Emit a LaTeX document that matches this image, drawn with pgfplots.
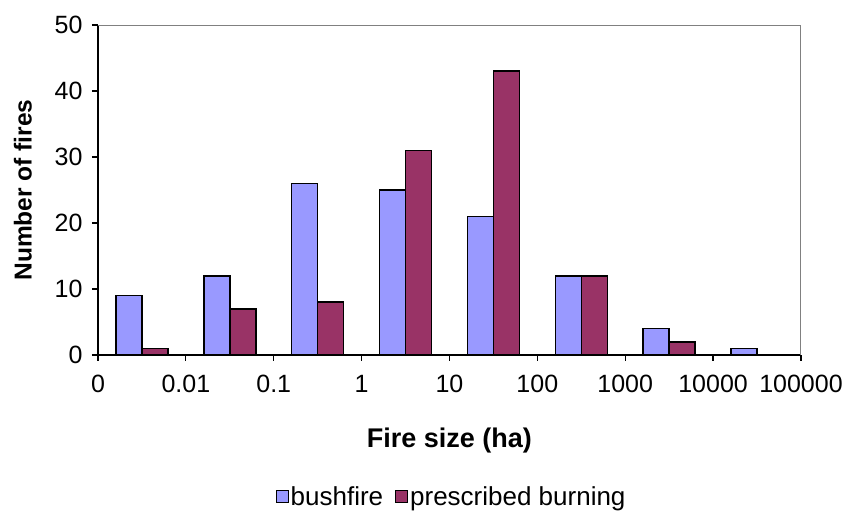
\documentclass[border=0pt]{standalone}
\usepackage{pgfplots}
\pgfplotsset{compat=1.18}
\usepackage{fontspec}
\setmainfont{Liberation Sans}

\definecolor{bush}{HTML}{9999FF}
\definecolor{presc}{HTML}{993366}
\definecolor{framegray}{HTML}{808080}

% fire-size classes (decades of hectares), numbered 1..8 at the class centres
\pgfplotstableread{
x   bush  presc
0.5  9    1
1.5  12   7
2.5  26   8
3.5  25   31
4.5  21   43
5.5  12   12
6.5  4    2
7.5  1    0
}\firedata

\begin{document}
\begin{tikzpicture}
\begin{axis}[
  scale only axis,
  width=703pt, height=330pt,
  anchor=south west, at={(0,0)},
  xmin=0, xmax=8, ymin=0, ymax=50,
  axis x line*=bottom, axis y line*=left,
  axis line style={line width=1.2pt, -},
  xtick={0,1,2,3,4,5,6,7,8},
  xticklabels={0,0.01,0.1,1,10,100,1000,10000,100000},
  ytick={0,10,20,30,40,50},
  tick align=outside,
  major tick length=6pt,
  tick style={line width=1.2pt, black},
  /pgf/number format/assume math mode=true,
  ticklabel style={font=\fontsize{25}{29}\selectfont},
  xticklabel style={yshift=-11pt},
  yticklabel style={xshift=-6pt},
  xlabel={\textbf{Fire size (ha)}},
  ylabel={\textbf{Number of fires}},
  xlabel style={font=\fontsize{27}{31}\selectfont, yshift=-28pt},
  ylabel style={font=\fontsize{24.5}{29}\selectfont, yshift=16pt},
  ybar=0pt,
  bar width=26pt,
  legend style={draw=none, font=\fontsize{26}{30}\selectfont,
    at={(0.503,-0.43)}, anchor=center, legend columns=2,
    /tikz/every even column/.append style={column sep=10pt}},
  legend image code/.code={\draw[#1, line width=1pt] (0pt,-6pt) rectangle (12pt,6pt);},
]
\addplot[fill=bush, draw=black, line width=1.5pt, bar shift=-13pt] table[x=x, y=bush] {\firedata};
\addplot[fill=presc, draw=black, line width=1.5pt, bar shift=13pt] table[x=x, y=presc] {\firedata};
\legend{bushfire, prescribed burning}
\draw[framegray, line width=1.2pt] (rel axis cs:0,1) -- (rel axis cs:1,1) -- (rel axis cs:1,0);
\end{axis}
\path[use as bounding box] (-98pt,-153pt) rectangle (748pt,355pt);
\end{tikzpicture}
\end{document}
